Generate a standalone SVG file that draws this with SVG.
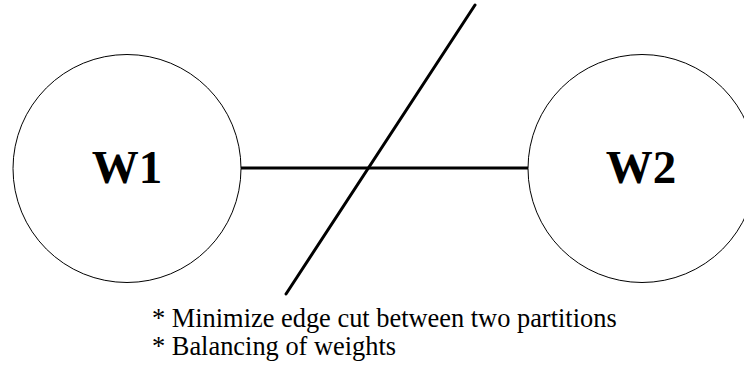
<svg xmlns="http://www.w3.org/2000/svg" width="744" height="369" viewBox="0 0 744 369">
<style>
.node{fill:#fff;stroke:#000;stroke-width:1}
.lbl{font-family:"Liberation Serif","Times New Roman",serif;font-weight:bold;font-size:47px;text-anchor:middle;fill:#000}
.edge{stroke:#000;stroke-width:3;stroke-linecap:round;fill:none}
.note{font-family:"Liberation Serif","Times New Roman",serif;font-size:26.4px;fill:#000}
</style>
<rect width="744" height="369" fill="#fff"/>
<g id="connectors">
<line class="edge" x1="241" y1="168" x2="528" y2="168"/>
<line class="edge" x1="475" y1="5" x2="286" y2="294"/>
</g>
<g id="W1">
<circle class="node" cx="127" cy="168.5" r="114"/>
<text class="lbl" x="127" y="183">W1</text>
</g>
<g id="W2">
<circle class="node" cx="642" cy="168.5" r="114"/>
<text class="lbl" x="641" y="183">W2</text>
</g>
<g id="notes">
<text class="note" x="152" y="327">* Minimize edge cut between two partitions</text>
<text class="note" x="152" y="355">* Balancing of weights</text>
</g>
</svg>
